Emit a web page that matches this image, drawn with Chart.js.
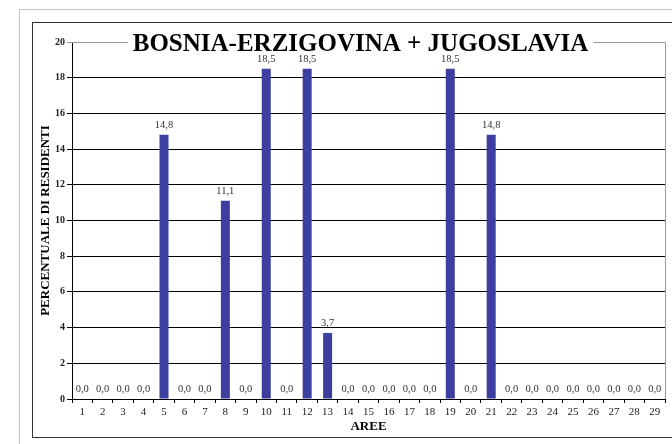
<!DOCTYPE html>
<html>
<head>
<meta charset="utf-8">
<script src="https://cdn.jsdelivr.net/npm/chart.js@4"></script>
<style>
  body { margin: 0; background: #fff; overflow: hidden; }
  #contenedor { width: 672px; height: 444px; }
</style>
</head>
<body>
<div id="contenedor"><canvas id="grafico"></canvas></div>
<script>
const aree = ['1','2','3','4','5','6','7','8','9','10','11','12','13','14','15',
  '16','17','18','19','20','21','22','23','24','25','26','27','28','29'];
const percentuali = [0, 0, 0, 0, 14.8, 0, 0, 11.1, 0, 18.5, 0, 18.5, 3.7, 0, 0,
  0, 0, 0, 18.5, 0, 14.8, 0, 0, 0, 0, 0, 0, 0, 0];
const titolo = 'BOSNIA-ERZIGOVINA + JUGOSLAVIA';
const titoloY = 'PERCENTUALE DI RESIDENTI';
const titoloX = 'AREE';

const serif = '"Liberation Serif", "Times New Roman", serif';

// marco gris y negro alrededor del gráfico
const marco = {
  id: 'marco',
  beforeDraw(chart) {
    const ctx = chart.ctx;
    ctx.save();
    ctx.fillStyle = '#fff';
    ctx.fillRect(0, 0, chart.width, chart.height);
    ctx.lineWidth = 1;
    ctx.strokeStyle = '#c4c4c4';
    ctx.strokeRect(19.5, 9.5, 700, 500);
    ctx.strokeStyle = '#333';
    ctx.strokeRect(32.5, 22.5, 700, 415);
    ctx.restore();
  },
  beforeDatasetsDraw(chart) {
    const { ctx, chartArea: a } = chart;
    ctx.save();
    ctx.strokeStyle = '#999';
    ctx.lineWidth = 1;
    ctx.beginPath();
    ctx.moveTo(a.left, a.top + 0.5);
    ctx.lineTo(Math.round(a.right) + 0.5, a.top + 0.5);
    ctx.lineTo(Math.round(a.right) + 0.5, a.bottom);
    ctx.stroke();
    ctx.restore();
  }
};

// etiquetas de valor encima de cada barra y título sobre el borde
const etiquetas = {
  id: 'etiquetas',
  afterDatasetsDraw(chart) {
    const ctx = chart.ctx;
    const meta = chart.getDatasetMeta(0);
    ctx.save();
    ctx.font = '10.5px ' + serif;
    ctx.fillStyle = '#333';
    ctx.textAlign = 'center';
    ctx.textBaseline = 'alphabetic';
    meta.data.forEach((barra, i) => {
      const txt = percentuali[i].toFixed(1).replace('.', ',');
      ctx.fillText(txt, barra.x, barra.y - 7);
    });
    ctx.restore();
  },
  afterDraw(chart) {
    const { ctx, chartArea: a } = chart;
    ctx.save();
    ctx.font = 'bold 25px ' + serif;
    const w = ctx.measureText(titolo).width;
    const cx = (a.left + a.right) / 2 - 8;
    ctx.fillStyle = '#fff';
    ctx.fillRect(cx - w / 2 - 5, a.top - 4, w + 10, 8);
    ctx.fillStyle = '#000';
    ctx.textAlign = 'center';
    ctx.textBaseline = 'alphabetic';
    ctx.fillText(titolo, cx, 51);
    ctx.restore();
  }
};

new Chart(document.getElementById('grafico'), {
  type: 'bar',
  data: {
    labels: aree,
    datasets: [{
      data: percentuali,
      backgroundColor: '#3c3ea0',
      barPercentage: 0.44,
      categoryPercentage: 1
    }]
  },
  options: {
    responsive: true,
    maintainAspectRatio: false,
    animation: false,
    layout: { padding: { top: 42, right: 7, bottom: 0, left: 0 } },
    plugins: {
      legend: { display: false },
      tooltip: { enabled: false },
      title: { display: false }
    },
    scales: {
      x: {
        afterFit(scale) { scale.height = 45; },
        grid: { drawOnChartArea: false, tickLength: 4, color: '#000', offset: true },
        border: { color: '#000' },
        ticks: {
          maxRotation: 0, autoSkip: false, padding: 3, color: '#222',
          font: { family: serif, size: 11 }
        },
        title: {
          display: true, text: titoloX, color: '#000',
          font: { family: serif, size: 13, weight: 'bold' },
          padding: { top: 0, bottom: 10 }
        }
      },
      y: {
        min: 0, max: 20,
        afterFit(scale) { scale.width = 72; },
        grid: {
          tickLength: 5,
          color: ctx => ctx.tick && ctx.tick.value === 20 ? '#999' : '#000'
        },
        border: { color: '#000' },
        ticks: {
          stepSize: 2, padding: 2, color: '#222',
          font: { family: serif, size: 10, weight: 'bold' }
        },
        title: {
          display: true, text: titoloY, color: '#000',
          font: { family: serif, size: 13, weight: 'bold' },
          padding: { top: 38, bottom: 0 }
        }
      }
    }
  },
  plugins: [marco, etiquetas]
});
</script>
</body>
</html>
